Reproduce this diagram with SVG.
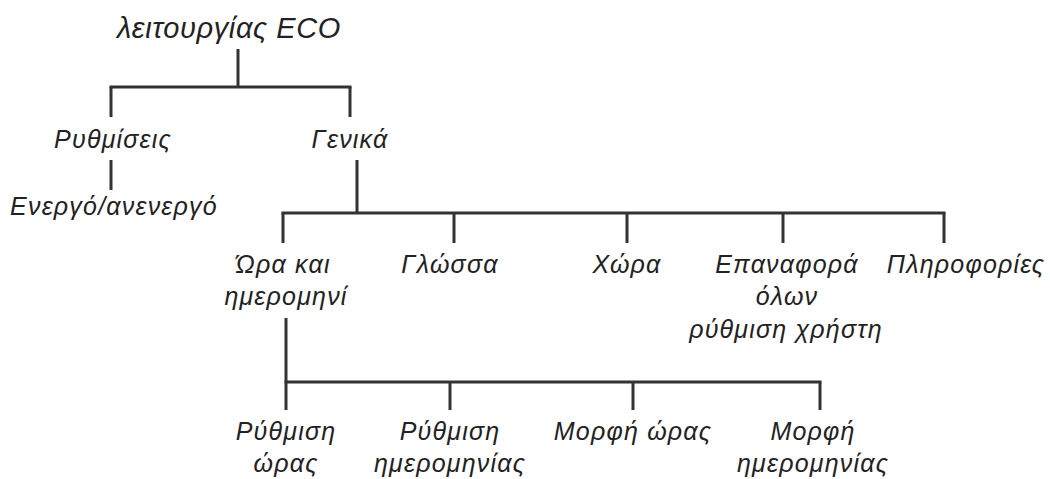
<svg xmlns="http://www.w3.org/2000/svg" width="1050" height="479" viewBox="0 0 1050 479">
<style>
text{font-family:"Liberation Sans",Arial,sans-serif;font-style:italic;font-size:25px;letter-spacing:1.2px;fill:#222;text-anchor:middle}
text.t{font-size:29px;letter-spacing:0.6px}
.c line{stroke:#333;stroke-width:3;stroke-linecap:butt}
</style>
<rect width="1050" height="479" fill="#fff"/>
<g class="c" id="connectors">
<line x1="238" y1="49" x2="238" y2="87"/>
<line x1="109.5" y1="87" x2="351.5" y2="87"/>
<line x1="111" y1="87" x2="111" y2="117"/>
<line x1="350" y1="87" x2="350" y2="117"/>
<line x1="111" y1="160" x2="111" y2="190"/>
<line x1="357" y1="160" x2="357" y2="213"/>
<line x1="281.5" y1="213" x2="945.5" y2="213"/>
<line x1="283" y1="213" x2="283" y2="243"/>
<line x1="454" y1="213" x2="454" y2="243"/>
<line x1="627" y1="213" x2="627" y2="243"/>
<line x1="783" y1="213" x2="783" y2="243"/>
<line x1="944" y1="213" x2="944" y2="243"/>
<line x1="286" y1="318" x2="286" y2="382"/>
<line x1="284.5" y1="382" x2="821.5" y2="382"/>
<line x1="286" y1="382" x2="286" y2="410"/>
<line x1="450" y1="382" x2="450" y2="410"/>
<line x1="633" y1="382" x2="633" y2="410"/>
<line x1="820" y1="382" x2="820" y2="410"/>
</g>
<g id="n-root"><text class="t" x="229" y="38">λειτουργίας ECO</text></g>
<g id="n-rythmiseis"><text x="113" y="148">Ρυθμίσεις</text></g>
<g id="n-genika"><text x="350" y="148">Γενικά</text></g>
<g id="n-energo"><text x="114" y="215">Ενεργό/ανενεργό</text></g>
<g id="n-ora"><text x="283" y="273">Ώρα και</text><text x="286" y="305">ημερομηνί</text></g>
<g id="n-glossa"><text x="450" y="273">Γλώσσα</text></g>
<g id="n-chora"><text x="627" y="273">Χώρα</text></g>
<g id="n-epanafora"><text x="787" y="273">Επαναφορά</text><text x="787" y="305">όλων</text><text x="786" y="338">ρύθμιση χρήστη</text></g>
<g id="n-plirofories"><text x="966" y="273">Πληροφορίες</text></g>
<g id="n-rythmisi-oras"><text x="286" y="440">Ρύθμιση</text><text x="286" y="472">ώρας</text></g>
<g id="n-rythmisi-im"><text x="450" y="440">Ρύθμιση</text><text x="450" y="472">ημερομηνίας</text></g>
<g id="n-morfi-oras"><text x="633" y="440">Μορφή ώρας</text></g>
<g id="n-morfi-im"><text x="813" y="440">Μορφή</text><text x="813" y="472">ημερομηνίας</text></g>
</svg>
